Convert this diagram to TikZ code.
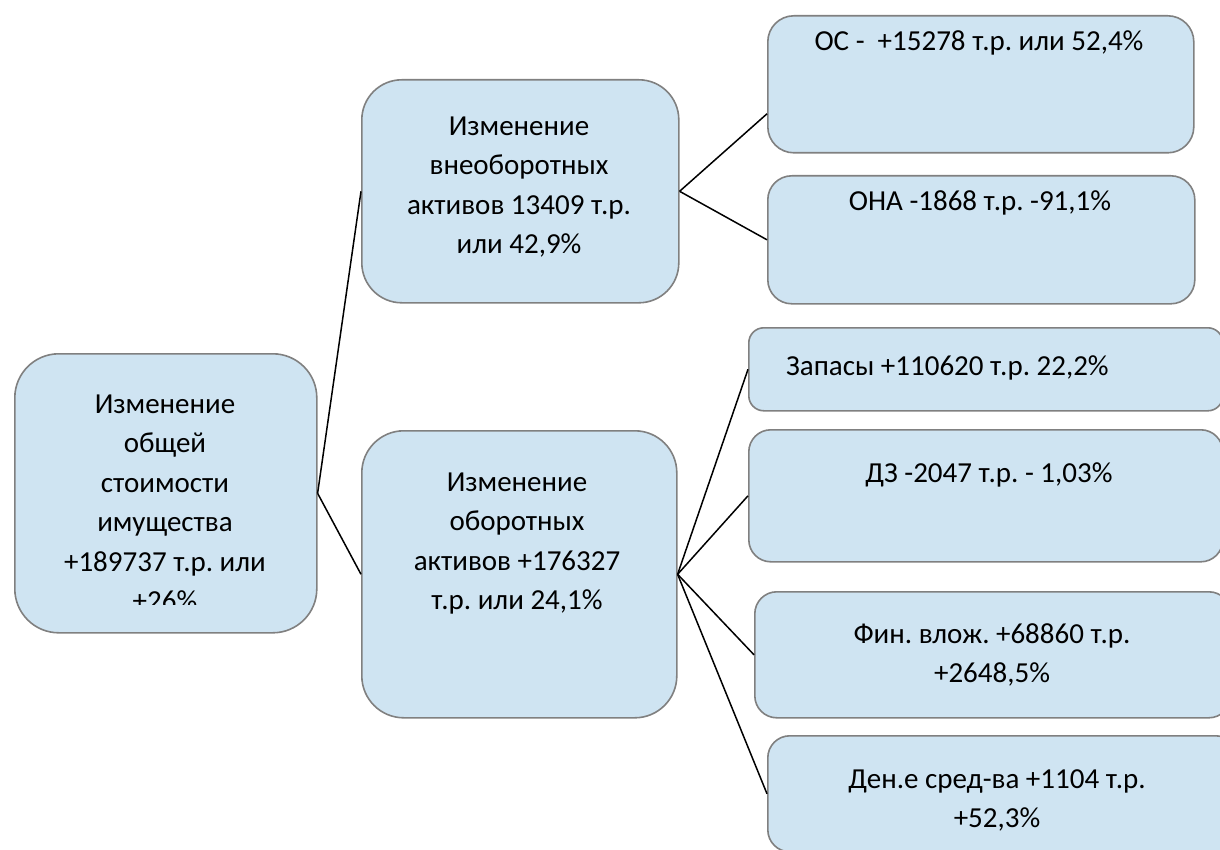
\documentclass[tikz,border=0pt]{standalone}
\usepackage{fontspec}
\setmainfont{Carlito}
\frenchspacing
\definecolor{boxfill}{RGB}{207,228,242}
\definecolor{boxline}{RGB}{128,128,128}
\begin{document}
\begin{tikzpicture}[x=1pt,y=-1pt,
  box/.style={draw=boxline, fill=boxfill, line width=1.6pt, inner sep=0pt,
    anchor=north west, shape=rectangle},
  txt/.style={inner sep=0pt, align=center, font=\fontsize{29}{39.5}\selectfont},
  conn/.style={draw=black, line width=1.5pt}]
\clip (0,0) rectangle (1220,850);
\fill[white] (0,0) rectangle (1220,850);

% boxes
\node[box, rounded corners=44pt, minimum width=302pt, minimum height=279pt] (root) at (14,353) {};
\node[box, rounded corners=40pt, minimum width=317pt, minimum height=223pt] (mid1) at (361,79) {};
\node[box, rounded corners=42pt, minimum width=315pt, minimum height=287pt] (mid2) at (361,430) {};
\node[box, rounded corners=26pt, minimum width=426pt, minimum height=137pt] (os) at (767,15) {};
\node[box, rounded corners=24pt, minimum width=427pt, minimum height=128pt] (ona) at (767,175) {};
\node[box, rounded corners=15pt, minimum width=474pt, minimum height=83pt] (zap) at (748,327) {};
\node[box, rounded corners=22pt, minimum width=474pt, minimum height=132pt] (dz) at (748,429) {};
\node[box, rounded corners=22pt, minimum width=476pt, minimum height=126pt] (fin) at (754,591) {};
\node[box, rounded corners=22pt, minimum width=470pt, minimum height=116pt] (den) at (767,735) {};

% connectors
\draw[conn] (root.east) -- (mid1.west);
\draw[conn] (root.east) -- (mid2.west);
\draw[conn] (mid1.east) -- ([yshift=-29.5pt]os.west);
\draw[conn] (mid1.east) -- (ona.west);
\draw[conn] (mid2.east) -- (zap.west);
\draw[conn] (mid2.east) -- (dz.west);
\draw[conn] (mid2.east) -- (fin.west);
\draw[conn] (mid2.east) -- (den.west);

% texts
\begin{scope}
\clip (14,353) rectangle (316,604);
\node[txt, anchor=north] (roott) at (165,385.4) {\strut Изменение\\общей\\стоимости\\имущества\\+189737 т.р. или\\+26\%};
\end{scope}
\node[txt, anchor=north] (mid1t) at (519,107.4) {\strut Изменение\\внеоборотных\\активов 13409 т.р.\\или 42,9\%};
\node[txt, anchor=north] (mid2t) at (517,463.4) {\strut Изменение\\оборотных\\активов +176327\\т.р. или 24,1\%};
\node[txt, anchor=base] (ost) at (979,51) {ОС -\ \ +15278 т.р. или 52,4\%};
\node[txt, anchor=base] (onat) at (980,211) {ОНА -1868 т.р. -91,1\%};
\node[txt, anchor=base west] (zapt) at (786,375) {Запасы +110620 т.р. 22,2\%};
\node[txt, anchor=base] (dzt) at (989,482) {ДЗ -2047 т.р. - 1,03\%};
\node[txt, anchor=north] (fint) at (992,615.4) {\strut Фин. влож. +68860 т.р.\\+2648,5\%};
\node[txt, anchor=north] (dent) at (997,760.4) {\strut Ден.е сред-ва +1104 т.р.\\+52,3\%};
\end{tikzpicture}
\end{document}
